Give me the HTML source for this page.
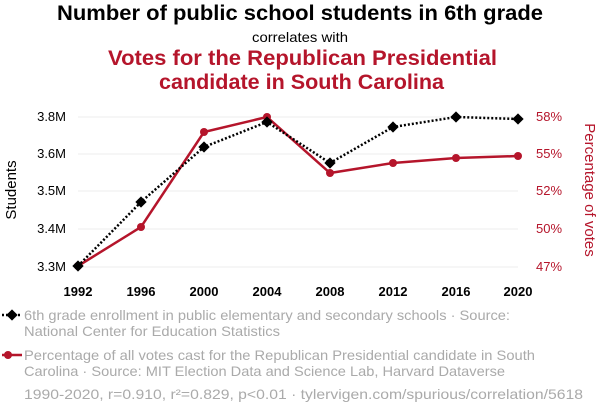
<!DOCTYPE html>
<html><head><meta charset="utf-8"><style>
body{margin:0;background:#fff;width:600px;height:414px;overflow:hidden;font-family:"Liberation Sans",sans-serif}
</style></head><body>
<svg width="600" height="414" xmlns="http://www.w3.org/2000/svg" font-family="Liberation Sans, sans-serif">
<text x="57" y="20" textLength="486" lengthAdjust="spacingAndGlyphs" font-size="21" font-weight="bold" fill="#000">Number of public school students in 6th grade</text>
<text x="252" y="42" textLength="96" lengthAdjust="spacingAndGlyphs" font-size="14" fill="#000">correlates with</text>
<text x="108" y="65" textLength="389" lengthAdjust="spacingAndGlyphs" font-size="21" font-weight="bold" fill="#b5152b">Votes for the Republican Presidential</text>
<text x="159" y="89" textLength="285" lengthAdjust="spacingAndGlyphs" font-size="21" font-weight="bold" fill="#b5152b">candidate in South Carolina</text>
<g stroke="#eee" stroke-width="1">
<line x1="78" x2="518" y1="117" y2="117"/><line x1="78" x2="518" y1="154" y2="154"/><line x1="78" x2="518" y1="191" y2="191"/><line x1="78" x2="518" y1="229" y2="229"/><line x1="78" x2="518" y1="267" y2="267"/>
</g>
<g font-size="13" fill="#000" text-anchor="end">
<text x="66" y="121">3.8M</text><text x="66" y="158">3.6M</text><text x="66" y="195">3.5M</text><text x="66" y="233">3.4M</text><text x="66" y="271">3.3M</text>
</g>
<g font-size="13" fill="#b5152b">
<text x="536" y="121">58%</text><text x="536" y="158">55%</text><text x="536" y="195">52%</text><text x="536" y="233">50%</text><text x="536" y="271">47%</text>
</g>
<text transform="translate(16,190) rotate(-90)" text-anchor="middle" font-size="15" fill="#000">Students</text>
<text transform="translate(585,190) rotate(90)" text-anchor="middle" font-size="15" fill="#b5152b">Percentage of votes</text>
<g font-size="13" font-weight="bold" text-anchor="middle" fill="#000">
<text x="78" y="296">1992</text><text x="141" y="296">1996</text><text x="204" y="296">2000</text><text x="267" y="296">2004</text><text x="330" y="296">2008</text><text x="393" y="296">2012</text><text x="456" y="296">2016</text><text x="518" y="296">2020</text>
</g>
<polyline fill="none" stroke="#b5152b" stroke-width="2.5" points="78,266 141,227 204,132 267,117 330,173 393,163 456,158 518,156"/>
<g fill="#b5152b"><circle cx="78" cy="266" r="4"/><circle cx="141" cy="227" r="4"/><circle cx="204" cy="132" r="4"/><circle cx="267" cy="117" r="4"/><circle cx="330" cy="173" r="4"/><circle cx="393" cy="163" r="4"/><circle cx="456" cy="158" r="4"/><circle cx="518" cy="156" r="4"/></g>
<polyline fill="none" stroke="#000" stroke-width="2.5" stroke-dasharray="2,2" points="78,266 141,202 204,147 267,122 330,163 393,127 456,117 518,119"/>
<g fill="#000">
<rect x="74" y="262" width="8" height="8" transform="rotate(45 78 266)"/><rect x="137" y="198" width="8" height="8" transform="rotate(45 141 202)"/><rect x="200" y="143" width="8" height="8" transform="rotate(45 204 147)"/><rect x="263" y="118" width="8" height="8" transform="rotate(45 267 122)"/><rect x="326" y="159" width="8" height="8" transform="rotate(45 330 163)"/><rect x="389" y="123" width="8" height="8" transform="rotate(45 393 127)"/><rect x="452" y="113" width="8" height="8" transform="rotate(45 456 117)"/><rect x="514" y="115" width="8" height="8" transform="rotate(45 518 119)"/>
</g>
<line x1="2" x2="22" y1="315" y2="315" stroke="#000" stroke-width="2.5" stroke-dasharray="2,2"/>
<rect x="8" y="311" width="8" height="8" transform="rotate(45 12 315)" fill="#000"/>
<g font-size="14" fill="#aaa">
<text x="24" y="320" textLength="486" lengthAdjust="spacingAndGlyphs">6th grade enrollment in public elementary and secondary schools · Source:</text>
<text x="24" y="336" textLength="256" lengthAdjust="spacingAndGlyphs">National Center for Education Statistics</text>
</g>
<line x1="2" x2="22" y1="355" y2="355" stroke="#b5152b" stroke-width="2.5"/>
<circle cx="8" cy="355" r="4" fill="#b5152b"/>
<g font-size="14" fill="#aaa">
<text x="24" y="360" textLength="511" lengthAdjust="spacingAndGlyphs">Percentage of all votes cast for the Republican Presidential candidate in South</text>
<text x="24" y="376" textLength="481" lengthAdjust="spacingAndGlyphs">Carolina · Source: MIT Election Data and Science Lab, Harvard Dataverse</text>
<text x="24" y="399" textLength="559" lengthAdjust="spacingAndGlyphs">1990-2020, r=0.910, r²=0.829, p&lt;0.01 · tylervigen.com/spurious/correlation/5618</text>
</g>
</svg>
</body></html>
